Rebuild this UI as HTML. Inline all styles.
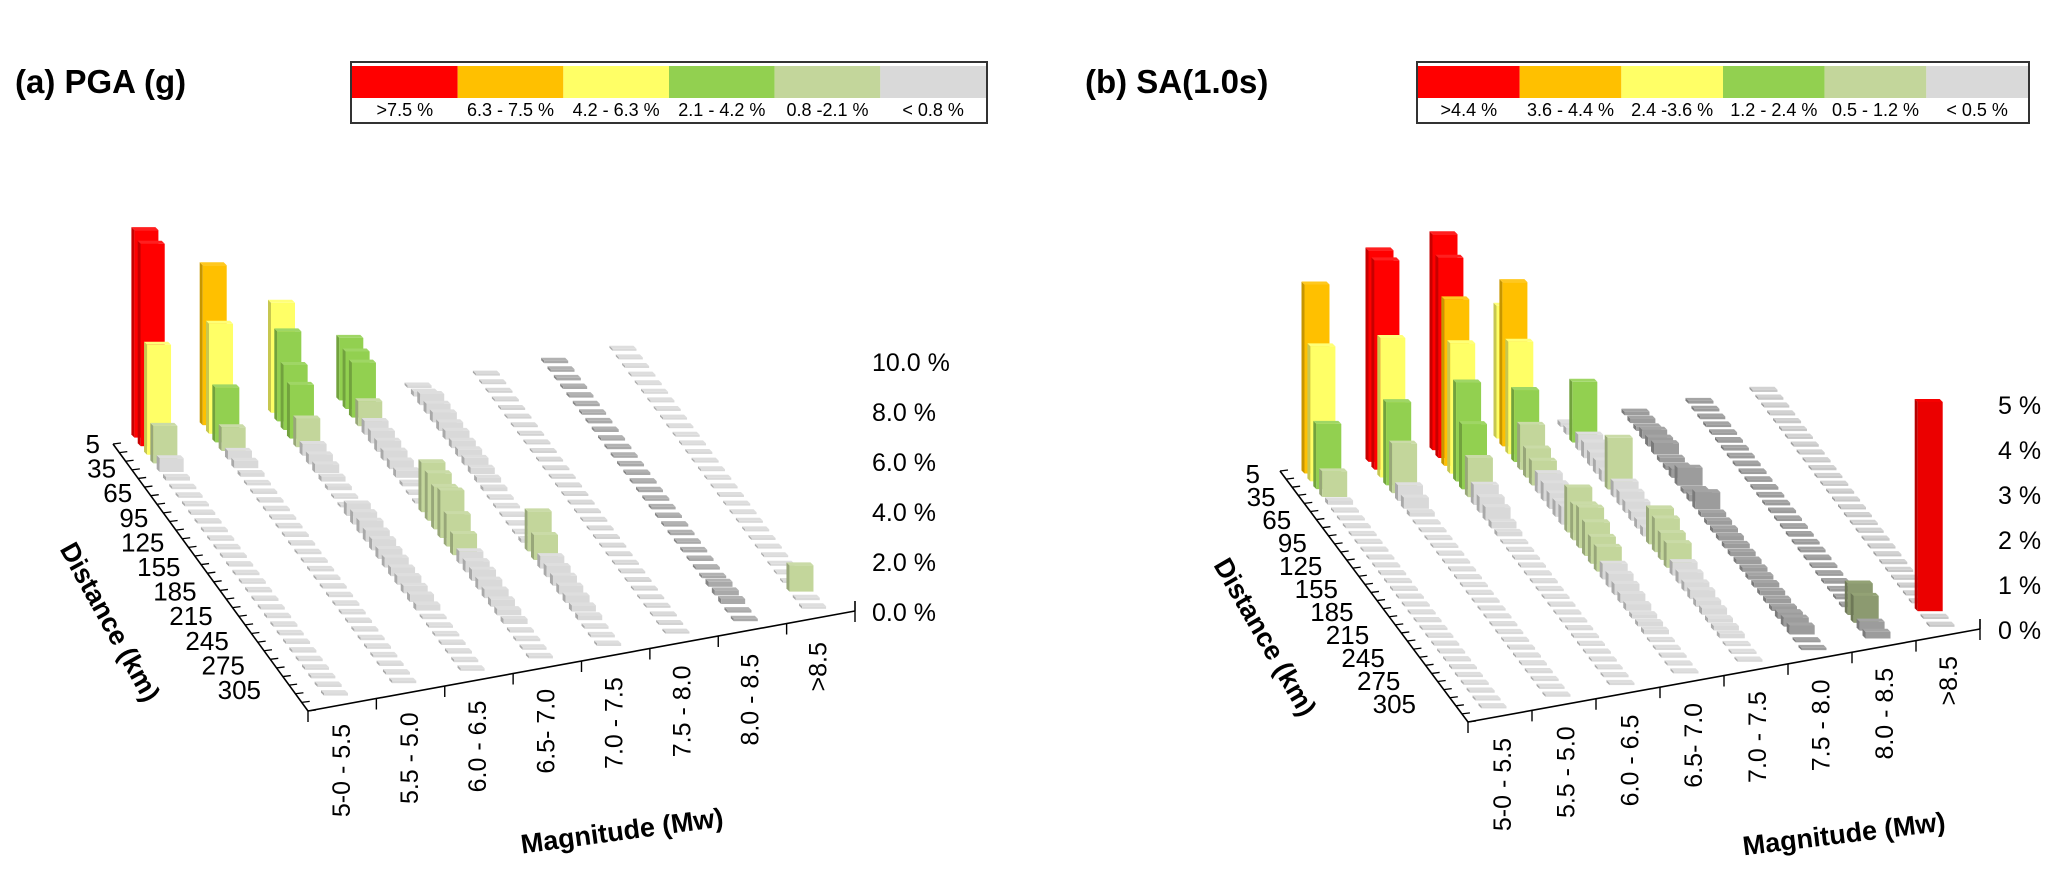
<!DOCTYPE html>
<html><head><meta charset="utf-8"><style>
html,body{margin:0;padding:0;background:#fff;}
svg{display:block;font-family:"Liberation Sans",sans-serif;}
</style></head><body>
<svg id="fig" width="2067" height="870" viewBox="0 0 2067 870" xmlns="http://www.w3.org/2000/svg">
<rect x="0" y="0" width="2067" height="870" fill="#fff"/>
<text x="15" y="93" font-size="33" font-weight="bold">(a) PGA (g)</text>
<text x="1085" y="93" font-size="33" font-weight="bold">(b) SA(1.0s)</text>
</svg>
<script>
// ---------- data ----------
const magCategories = ["5-0 - 5.5","5.5 - 5.0","6.0 - 6.5","6.5- 7.0","7.0 - 7.5","7.5 - 8.0","8.0 - 8.5",">8.5"];
const distLabels = ["5","35","65","95","125","155","185","215","245","275","305"];
const palette = ["#ff0000","#ffc000","#ffff66","#92d050","#c3d69b","#d9d9d9"];
const pgaThresholds = [7.5,6.3,4.2,2.1,0.8];
const saThresholds = [4.4,3.6,2.4,1.2,0.5];
const pgaLegend = [">7.5 %","6.3 - 7.5 %","4.2 - 6.3 %","2.1 - 4.2 %","0.8 -2.1 %","< 0.8 %"];
const saLegend = [">4.4 %","3.6 - 4.4 %","2.4 -3.6 %","1.2 - 2.4 %","0.5 - 1.2 %","< 0.5 %"];
const pgaTicks = ["0.0 %","2.0 %","4.0 %","6.0 %","8.0 %","10.0 %"];
const pgaTickVals = [0,2,4,6,8,10];
const saTicks = ["0 %","1 %","2 %","3 %","4 %","5 %"];
const saTickVals = [0,1,2,3,4,5];

const pgaM0 = [8.3,8.1,4.4,1.5,0.55,0.15,0.1,0.1,0.1,0.1,0.1,0.1,0.1,0.1,0.1,0.1,0.1,0.1,0.1,0.1,0.1,0.1,0.1,0.1,0.1,0.1,0.1,0.1,0.1,0.1,0.1];
const pgaM1 = [6.4,4.4,2.2,0.95,0.35,0.3,0.15,0.1,0.1,0.1,0.1,0.1,0.1,0.1,0.1,0.1,0.1,0.1,0.1,0.1,0.1,0.1,0.1,0.1,0.1,0.1,0.1,0.1,0.1,0.1,0.1];
const pgaM2 = [4.4,3.6,2.6,2.15,1.15,0.47,0.4,0.35,0.2,0.15,0.1,0.1,0.5,0.5,0.5,0.45,0.45,0.4,0.4,0.35,0.35,0.3,0.3,0.25,0.1,0.1,0.1,0.1,0.1,0.1,0.1];
const pgaM3 = [2.5,2.3,2.2,1.0,0.55,0.5,0.45,0.4,0.35,0.3,0.15,0.1,0.1,2.0,1.9,1.7,1.9,1.3,0.85,0.5,0.45,0.45,0.4,0.35,0.3,0.25,0.2,0.1,0.1,0.1,0.1];
const pgaM4 = [0.1,0.2,0.45,0.4,0.4,0.35,0.35,0.3,0.3,0.3,0.25,0.2,0.15,0.1,0.1,0.1,0.1,0.1,0.15,1.6,1.0,0.5,0.45,0.4,0.35,0.3,0.25,0.2,0.1,0.1,0.1];
const pgaM5 = [0.08,0.08,0.08,0.08,0.08,0.08,0.08,0.08,0.08,0.08,0.08,0.08,0.08,0.08,0.08,0.08,0.08,0.08,0.08,0.08,0.08,0.08,0.08,0.08,0.08,0.08,0.08,0.08,0.08,0.08,0.08];
const pgaM6 = [0.1,0.1,0.1,0.1,0.1,0.1,0.1,0.1,0.1,0.1,0.1,0.1,0.1,0.1,0.1,0.1,0.1,0.1,0.1,0.1,0.1,0.1,0.1,0.1,0.1,0.1,0.2,0.2,0.2,0.1,0.1];
const pgaM7 = [0.08,0.08,0.08,0.08,0.08,0.08,0.08,0.08,0.08,0.08,0.08,0.08,0.08,0.08,0.08,0.08,0.08,0.08,0.08,0.08,0.08,0.08,0.08,0.08,0.08,0.08,0.08,0.08,1.05,0.1,0.1];

const saM0 = [4.2,3.0,1.45,0.57,0.1,0.05,0.05,0.05,0.05,0.05,0.05,0.05,0.05,0.05,0.05,0.05,0.05,0.05,0.05,0.05,0.05,0.05,0.05,0.05,0.05,0.05,0.05,0.05,0.05,0.05,0.05];
const saM1 = [4.7,4.65,3.1,1.85,1.1,0.35,0.25,0.1,0.05,0.05,0.05,0.05,0.05,0.05,0.05,0.05,0.05,0.05,0.05,0.05,0.05,0.05,0.05,0.05,0.05,0.05,0.05,0.05,0.05,0.05,0.05];
const saM2 = [4.8,4.45,3.7,2.9,2.2,1.45,0.87,0.45,0.35,0.3,0.15,0.1,0.05,0.05,0.05,0.05,0.05,0.05,0.05,0.05,0.05,0.05,0.05,0.05,0.05,0.05,0.05,0.05,0.05,0.05,0.05];
const saM3 = [2.95,3.65,2.5,1.6,1.0,0.65,0.55,0.45,0.4,0.35,0.35,0.4,1.0,0.8,0.9,0.75,0.6,0.55,0.35,0.3,0.25,0.2,0.15,0.1,0.1,0.1,0.05,0.05,0.05,0.05,0.05];
const saM4 = [0.1,0.15,1.35,0.35,0.35,0.3,0.3,0.25,1.15,0.35,0.3,0.25,0.2,0.2,0.2,0.8,0.75,0.6,0.55,0.3,0.25,0.2,0.2,0.15,0.15,0.1,0.1,0.1,0.05,0.05,0.05];
const saM5 = [0.08,0.1,0.1,0.2,0.2,0.25,0.1,0.1,0.2,0.4,0.1,0.15,0.38,0.1,0.1,0.1,0.1,0.1,0.1,0.1,0.1,0.1,0.1,0.1,0.1,0.1,0.15,0.2,0.2,0.05,0.05];
const saM6 = [0.06,0.06,0.06,0.06,0.06,0.06,0.06,0.06,0.06,0.06,0.06,0.06,0.06,0.06,0.06,0.06,0.06,0.06,0.06,0.06,0.06,0.06,0.06,0.06,0.06,0.06,0.06,0.7,0.6,0.2,0.15];
const saM7 = [0.05,0.05,0.05,0.05,0.05,0.05,0.05,0.05,0.05,0.05,0.05,0.05,0.05,0.05,0.05,0.05,0.05,0.05,0.05,0.05,0.05,0.05,0.05,0.05,0.05,0.05,0.05,0.05,4.65,0.05,0.05];

const pgaSeries = [pgaM0,pgaM1,pgaM2,pgaM3,pgaM4,pgaM5,pgaM6,pgaM7];
const saSeries = [saM0,saM1,saM2,saM3,saM4,saM5,saM6,saM7];

// ---------- drawing ----------
const NS = "http://www.w3.org/2000/svg";
const svg = document.getElementById("fig");
function mk(tag, attrs, parent){
  const e = document.createElementNS(NS, tag);
  for (const k in attrs) e.setAttribute(k, attrs[k]);
  (parent||svg).appendChild(e);
  return e;
}
function shadeColor(hex, f){
  const r=parseInt(hex.substr(1,2),16), g=parseInt(hex.substr(3,2),16), b=parseInt(hex.substr(5,2),16);
  const c = v => Math.max(0,Math.min(255,Math.round(f>1? v+(255-v)*(f-1) : v*f)));
  return "rgb("+c(r)+","+c(g)+","+c(b)+")";
}
function colorFor(v, th){
  for (let i=0;i<th.length;i++) if (v>th[i]) return palette[i];
  return palette[5];
}

function drawChart(cfg){
  const g = mk("g", {});
  
  
  const bx = (i,j) => cfg.ox + cfg.mx*i + cfg.dx*j;
  const by = (i,j) => cfg.oy + cfg.my*i + cfg.dy*j;
  const yScale = v => v*cfg.k;

  const axes = mk("g", {}, g);
  
  
  const dAxis = mk("line", {x1:cfg.dA[0],y1:cfg.dA[1],x2:cfg.corner[0],y2:cfg.corner[1],stroke:"#000","stroke-width":1.6}, axes);
  
  
  const mAxis = mk("line", {x1:cfg.corner[0],y1:cfg.corner[1],x2:cfg.mEnd[0],y2:cfg.mEnd[1],stroke:"#000","stroke-width":1.6}, axes);
  
  
  const vt = mk("line", {x1:cfg.mEnd[0],y1:cfg.mEnd[1],x2:cfg.mEnd[0],y2:cfg.mEnd[1]-10,stroke:"#000","stroke-width":1.6}, axes);
  
  
  for (let t=0;t<=31;t++){
    const x = cfg.dA[0] + (cfg.corner[0]-cfg.dA[0])*t/31;
    const y = cfg.dA[1] + (cfg.corner[1]-cfg.dA[1])*t/31;
    const tk = mk("line", {x1:x,y1:y,x2:x+8,y2:y-1,stroke:"#000","stroke-width":1.3}, axes);
    
    
  }
  for (let t=0;t<=8;t++){
    const x = cfg.corner[0] + (cfg.mEnd[0]-cfg.corner[0])*t/8;
    const y = cfg.corner[1] + (cfg.mEnd[1]-cfg.corner[1])*t/8;
    const tk = mk("line", {x1:x,y1:y,x2:x,y2:y+11,stroke:"#000","stroke-width":1.4}, axes);
    
    
  }
  distLabels.forEach((lab,k)=>{
    const t = mk("text", {x:cfg.dl[0]+cfg.dl[2]*k, y:cfg.dl[1]+cfg.dl[3]*k, "font-size":26, "text-anchor":"end", "dominant-baseline":"central", fill:"#000"}, g);
    t.textContent = lab;
    
    
  });
  magCategories.forEach((lab,i)=>{
    const x = cfg.ml[0] + cfg.ml[2]*i, y = cfg.ml[1] + cfg.ml[3]*i;
    const t = mk("text", {x:x, y:y, "font-size":25, "text-anchor":"end", "dominant-baseline":"central", transform:"rotate(-90 "+x+" "+y+")", fill:"#000"}, g);
    t.textContent = lab;
    
    
  });
  cfg.ticks.forEach((lab,i)=>{
    const t = mk("text", {x:cfg.vx, y:cfg.zeroY - yScale(cfg.tickVals[i]), "font-size":25, "dominant-baseline":"central", fill:"#000"}, g);
    t.textContent = lab;
    
    
  });
  const dt = mk("text", {x:cfg.dTitle[0], y:cfg.dTitle[1], "font-size":27, "font-weight":"bold", "text-anchor":"middle", "dominant-baseline":"central", transform:"rotate("+cfg.dTitle[2]+" "+cfg.dTitle[0]+" "+cfg.dTitle[1]+")"}, g);
  dt.textContent = "Distance (km)";
  
  
  const mt = mk("text", {x:cfg.mTitle[0], y:cfg.mTitle[1], "font-size":27, "font-weight":"bold", "text-anchor":"middle", "dominant-baseline":"central", transform:"rotate("+cfg.mTitle[2]+" "+cfg.mTitle[0]+" "+cfg.mTitle[1]+")"}, g);
  mt.textContent = "Magnitude (Mw)";
  
  

  const W = cfg.W, dpx = -3, dpy = -3;
  const rows = cfg.series[0].length;
  for (let j=0;j<rows;j++){
    for (let i=0;i<cfg.series.length;i++){
      const v = cfg.series[i][j];
      const x0 = bx(i,j) - W/2, yb = by(i,j);
      const h = Math.max(1.2, yScale(v));
      const base = colorFor(v, cfg.th);
      const s = cfg.shade[i];
      const bar = mk("g", {}, g);
      
      
      mk("polygon", {points:[[x0,yb],[x0,yb-h],[x0+dpx,yb-h+dpy],[x0+dpx,yb+dpy]].join(" "), fill:shadeColor(base, 0.78*s)}, bar);
      mk("rect", {x:x0, y:yb-h, width:W, height:h, fill:shadeColor(base, s)}, bar);
      mk("polygon", {points:[[x0,yb-h],[x0+W,yb-h],[x0+W+dpx,yb-h+dpy],[x0+dpx,yb-h+dpy]].join(" "), fill:shadeColor(base, s<1 ? s*1.05 : 1.12)}, bar);
    }
  }
}

function drawLegend(x, y, w, labels, name){
  const g = mk("g", {});
  
  
  const box = mk("rect", {x:x, y:y, width:w, height:61, fill:"#fff", stroke:"#333", "stroke-width":2}, g);
  
  
  const cw = (w-2)/6;
  labels.forEach((lab,i)=>{
    const r = mk("rect", {x:x+1+cw*i, y:y+4, width:cw, height:32, fill:palette[i]}, g);
    
    
    const t = mk("text", {x:x+1+cw*i+cw/2, y:y+48, "font-size":18, "text-anchor":"middle", "dominant-baseline":"central", fill:"#000"}, g);
    t.textContent = lab;
    
    
  });
}

drawLegend(351, 62, 636, pgaLegend, 'pga-legend');
drawLegend(1417, 62, 612, saLegend, 'sa-legend');

drawChart({name:'pga-chart', series:pgaSeries, th:pgaThresholds,
  ox:146.4, oy:437.6, mx:68.3, my:-12.4, dx:6.32, dy:8.6, k:25, W:24,
  dA:[113,444], corner:[308,711], mEnd:[855,611],
  dl:[100,444,16.1,24.6], ml:[342,724,68.1,-11.7],
  vx:872, zeroY:613, ticks:pgaTicks, tickVals:pgaTickVals,
  dTitle:[110,622,61], mTitle:[622,831,-7.7],
  shade:[1,1,1,1,1,0.97,0.78,1]});

drawChart({name:'sa-chart', series:saSeries, th:saThresholds,
  ox:1317, oy:473.5, mx:64, my:-11.65, dx:5.9, dy:7.83, k:45, W:25,
  dA:[1280,471], corner:[1468,722], mEnd:[1980,629],
  dl:[1260,474,15.6,23], ml:[1503,738,63.7,-11.7],
  vx:1998, zeroY:631, ticks:saTicks, tickVals:saTickVals,
  dTitle:[1265,637,60], mTitle:[1844,834,-7],
  shade:[1,1,1,1,1,0.72,0.72,0.92]});
</script>
</body></html>
